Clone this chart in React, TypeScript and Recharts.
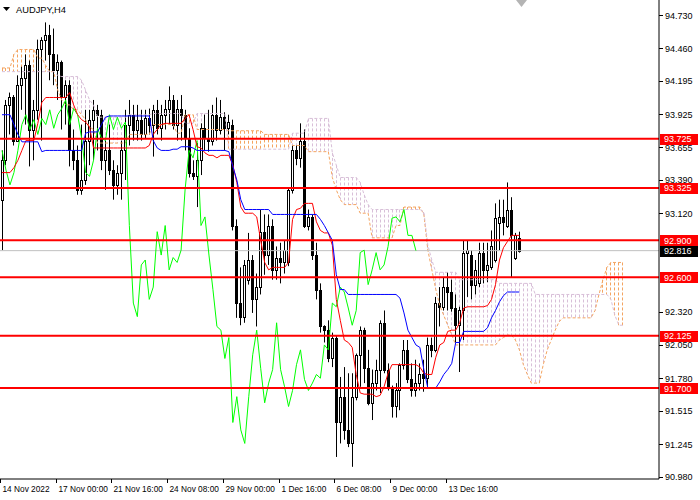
import React from 'react';
import { ComposedChart, Bar, Line, XAxis, YAxis, ReferenceLine } from 'recharts';

// AUDJPY H4 candles: [open, high, low, close]
const bars: [number, number, number, number][] = [
  [93.23, 93.63, 92.82, 93.55], [93.55, 94.04, 93.51, 94.0], [94.0, 94.1, 93.76, 94.06], [94.06, 94.08, 93.67, 93.71], [93.71, 94.24, 93.7, 94.16],
  [94.16, 94.31, 93.96, 94.22], [94.22, 94.41, 93.84, 94.32], [94.32, 94.36, 93.5, 93.8], [93.8, 94.04, 93.55, 93.96], [93.96, 94.53, 93.88, 94.45],
  [94.45, 94.55, 93.71, 94.53], [94.53, 94.67, 94.36, 94.57], [94.57, 94.65, 94.2, 94.41], [94.41, 94.62, 94.16, 94.28], [94.28, 94.41, 94.04, 94.35],
  [94.35, 94.36, 93.8, 94.06], [94.06, 94.2, 93.84, 94.16], [94.16, 94.2, 93.5, 93.63], [93.63, 93.8, 93.47, 93.55], [93.55, 93.67, 93.27, 93.31],
  [93.31, 93.84, 93.27, 93.39], [93.39, 93.96, 93.35, 93.71], [93.71, 93.96, 93.51, 93.88], [93.88, 94.04, 93.55, 93.96], [93.96, 94.0, 93.63, 93.92],
  [93.92, 93.96, 93.47, 93.55], [93.55, 93.71, 93.31, 93.63], [93.63, 93.84, 93.43, 93.47], [93.47, 93.55, 93.23, 93.35], [93.35, 93.51, 93.27, 93.45],
  [93.45, 93.71, 93.23, 93.63], [93.63, 93.96, 93.39, 93.84], [93.84, 94.04, 93.67, 93.92], [93.92, 94.0, 93.71, 93.8], [93.8, 94.0, 93.71, 93.88],
  [93.88, 93.96, 93.71, 93.76], [93.76, 93.96, 93.73, 93.89], [93.89, 93.97, 93.76, 93.84], [93.84, 94.0, 93.58, 93.96], [93.96, 94.04, 93.76, 93.81],
  [93.81, 94.0, 93.71, 93.92], [93.92, 94.04, 93.8, 93.97], [93.97, 94.15, 93.84, 94.04], [94.04, 94.08, 93.8, 93.84], [93.84, 94.04, 93.71, 93.97],
  [93.97, 94.08, 93.71, 93.92], [93.92, 93.96, 93.63, 93.73], [93.73, 93.81, 93.41, 93.45], [93.45, 93.55, 93.39, 93.42], [93.42, 93.69, 93.17, 93.55],
  [93.55, 93.85, 93.43, 93.81], [93.81, 93.92, 93.63, 93.73], [93.73, 93.96, 93.62, 93.71], [93.71, 94.0, 93.67, 93.92], [93.92, 94.06, 93.71, 93.8],
  [93.8, 94.04, 93.76, 93.9], [93.9, 93.94, 93.63, 93.81], [93.81, 93.92, 93.76, 93.86], [93.84, 93.88, 92.98, 93.02], [93.02, 93.07, 92.27, 92.39],
  [92.39, 92.68, 92.21, 92.28], [92.28, 92.74, 92.23, 92.7], [92.58, 92.96, 92.54, 92.74], [92.74, 92.78, 92.31, 92.42], [92.42, 92.63, 92.2, 92.52],
  [92.52, 93.15, 92.46, 92.97], [92.97, 93.11, 92.62, 92.78], [92.78, 93.11, 92.7, 93.02], [93.02, 93.07, 92.58, 92.66], [92.66, 92.85, 92.58, 92.76],
  [92.76, 92.88, 92.55, 92.72], [92.72, 92.9, 92.63, 92.82], [92.72, 93.33, 92.69, 93.31], [93.31, 93.67, 93.28, 93.63], [93.63, 93.67, 93.51, 93.57],
  [93.57, 93.85, 93.49, 93.71], [93.71, 93.8, 93.0, 93.02], [93.02, 93.15, 92.98, 93.09], [93.09, 93.11, 92.74, 92.78], [92.78, 92.88, 92.42, 92.5],
  [92.5, 92.55, 92.15, 92.2], [92.2, 92.21, 92.07, 92.17], [92.17, 92.25, 91.91, 91.94], [91.94, 92.15, 91.87, 92.11], [92.11, 92.13, 91.14, 91.42],
  [91.42, 91.79, 91.25, 91.63], [91.63, 91.87, 91.28, 91.36], [91.36, 91.82, 91.22, 91.25], [91.25, 91.82, 91.06, 91.63], [91.63, 91.98, 91.6, 91.97],
  [91.97, 92.2, 91.71, 92.17], [92.17, 92.19, 91.74, 91.86], [91.86, 92.01, 91.56, 91.58], [91.58, 91.85, 91.44, 91.74], [91.74, 91.93, 91.68, 91.85],
  [91.85, 92.25, 91.66, 92.23], [92.23, 92.33, 91.82, 91.85], [91.85, 91.9, 91.68, 91.71], [91.71, 91.72, 91.46, 91.55], [91.55, 91.74, 91.46, 91.68],
  [91.68, 91.9, 91.52, 91.89], [91.89, 92.09, 91.85, 92.01], [92.01, 92.09, 91.74, 91.77], [91.77, 91.9, 91.63, 91.68], [91.68, 91.93, 91.63, 91.74],
  [91.74, 91.9, 91.68, 91.81], [91.81, 91.93, 91.67, 91.78], [91.78, 92.11, 91.7, 92.05], [92.05, 92.11, 91.95, 92.01], [92.01, 92.44, 91.99, 92.39],
  [92.39, 92.52, 92.2, 92.36], [92.36, 92.6, 92.33, 92.52], [92.52, 92.64, 92.33, 92.48], [92.48, 92.58, 92.32, 92.35], [92.35, 92.46, 92.07, 92.21],
  [92.21, 92.36, 91.83, 92.33], [92.33, 92.9, 92.09, 92.8], [92.8, 92.9, 92.44, 92.82], [92.78, 92.82, 92.42, 92.54], [92.54, 92.74, 92.46, 92.66],
  [92.55, 92.88, 92.52, 92.8], [92.8, 92.88, 92.55, 92.66], [92.66, 92.88, 92.56, 92.7], [92.68, 92.98, 92.66, 92.85], [92.74, 93.2, 92.72, 93.08],
  [93.04, 93.23, 92.82, 93.09], [93.09, 93.23, 92.94, 93.05], [93.02, 93.37, 93.0, 93.15], [93.15, 93.25, 92.6, 92.94], [92.76, 92.96, 92.74, 92.94],
  [92.92, 92.97, 92.8, 92.816],
];

// Ichimoku lines
const tenkan = [
  93.45, 93.45, 93.45, 93.49, 93.55, 93.63, 93.71, 93.71, 93.71, 93.85,
  94.02, 94.06, 94.06, 94.06, 94.06, 94.06, 94.06, 94.1, 94.0, 93.92,
  93.88, 93.86, 93.82, 93.65, 93.65, 93.65, 93.65, 93.65, 93.65, 93.65,
  93.65, 93.65, 93.65, 93.65, 93.65, 93.65, 93.65, 93.67, 93.76, 93.8,
  93.84, 93.85, 93.85, 93.85, 93.85, 93.85, 93.89, 93.92, 93.8, 93.66,
  93.65, 93.61, 93.59, 93.59, 93.57, 93.59, 93.59, 93.59, 93.51, 93.37,
  93.17, 93.12, 93.12, 93.12, 93.09, 92.9, 92.72, 92.66, 92.68, 92.68,
  92.68, 92.68, 92.72, 93.07, 93.15, 93.16, 93.2, 93.2, 93.2, 93.05,
  92.98, 92.96, 92.96, 92.86, 92.42, 92.25, 92.09, 92.07, 92.03, 91.81,
  91.66, 91.65, 91.65, 91.65, 91.63, 91.64, 91.71, 91.82, 91.89, 91.89,
  91.89, 91.89, 91.89, 91.89, 91.89, 91.87, 91.82, 91.81, 91.81, 91.95,
  92.05, 92.07, 92.16, 92.17, 92.17, 92.23, 92.35, 92.36, 92.36, 92.36,
  92.36, 92.36, 92.37, 92.42, 92.54, 92.74, 92.84, 92.89, 92.94, 92.94,
  92.94,
];

const kijun = [
  93.92, 93.92, 93.92, 93.84, 93.76, 93.7, 93.7, 93.7, 93.7, 93.7,
  93.62, 93.63, 93.63, 93.63, 93.63, 93.63, 93.63, 93.63, 93.63, 93.63,
  93.63, 93.77, 93.78, 93.78, 93.78, 93.84, 93.9, 93.91, 93.91, 93.91,
  93.91, 93.91, 93.91, 93.91, 93.91, 93.91, 93.91, 93.91, 93.71, 93.65,
  93.63, 93.63, 93.63, 93.64, 93.64, 93.66, 93.66, 93.66, 93.65, 93.63,
  93.63, 93.63, 93.63, 93.63, 93.63, 93.63, 93.63, 93.62, 93.5, 93.39,
  93.23, 93.15, 93.15, 93.15, 93.15, 93.15, 93.15, 93.15, 93.11, 93.11,
  93.11, 93.11, 93.11, 93.11, 93.11, 93.11, 93.11, 93.11, 93.11, 93.11,
  93.07, 93.02, 92.96, 92.9, 92.62, 92.5, 92.5, 92.46, 92.46, 92.46,
  92.46, 92.46, 92.46, 92.46, 92.46, 92.46, 92.46, 92.46, 92.46, 92.46,
  92.43, 92.31, 92.17, 92.11, 92.05, 92.03, 91.85, 91.7, 91.7, 91.7,
  91.75, 91.81, 91.85, 91.9, 92.07, 92.07, 92.16, 92.16, 92.16, 92.16,
  92.16, 92.16, 92.19, 92.27, 92.33, 92.4, 92.45, 92.48, 92.48, 92.48,
  92.48,
];

// Senkou spans, already shifted 26 bars forward
const spanA = [
  94.3, 94.3, 94.3, 94.41, 94.45, 94.45, 94.45, 94.45, 94.45, 94.38,
  94.38, 94.32, 94.27, 94.27, 94.12, 94.04, 94.0, 94.0, 93.96, 93.96,
  93.92, 93.88, 93.82, 93.8, 93.69, 93.69, 93.69, 93.69, 93.69, 93.69,
  93.69, 93.69, 93.76, 93.76, 93.76, 93.76, 93.76, 93.76, 93.84, 93.84,
  93.84, 93.84, 93.84, 93.84, 93.77, 93.77, 93.92, 93.92, 93.92, 93.8,
  93.8, 93.8, 93.8, 93.8, 93.8, 93.8, 93.8, 93.79, 93.79, 93.79,
  93.79, 93.79, 93.79, 93.79, 93.79, 93.79, 93.76, 93.76, 93.76, 93.76,
  93.76, 93.76, 93.76, 93.67, 93.67, 93.67, 93.67, 93.62, 93.62, 93.62,
  93.62, 93.62, 93.62, 93.41, 93.31, 93.23, 93.19, 93.19, 93.19, 93.19,
  93.12, 93.12, 93.12, 92.92, 92.92, 92.92, 92.92, 92.92, 92.92, 93.02,
  93.02, 93.17, 93.17, 93.17, 93.17, 93.17, 93.11, 92.82, 92.66, 92.5,
  92.37, 92.29, 92.21, 92.13, 92.05, 92.05, 92.05, 92.05, 92.05, 92.05,
  92.05, 92.05, 92.05, 92.05, 92.05, 92.09, 92.11, 92.13, 92.13, 92.09,
  92.01, 91.89, 91.81, 91.74, 91.74, 91.74, 91.89, 92.01, 92.09, 92.17,
  92.24, 92.27, 92.27, 92.27, 92.27, 92.27, 92.27, 92.27, 92.27, 92.33,
  92.46, 92.58, 92.68, 92.72, 92.72, 92.72, 92.72,
];

const spanB = [
  94.27, 94.27, 94.27, 94.27, 94.27, 94.27, 94.27, 94.27, 94.27, 94.27,
  94.27, 94.27, 94.27, 94.27, 94.24, 94.23, 94.23, 94.23, 94.23, 94.23,
  94.2, 94.12, 94.04, 94.0, 93.9, 93.9, 93.9, 93.9, 93.9, 93.9,
  93.9, 93.9, 93.92, 93.92, 93.92, 93.92, 93.92, 93.92, 93.93, 93.93,
  93.93, 93.93, 93.93, 93.93, 93.93, 93.93, 93.85, 93.85, 93.85, 93.93,
  93.93, 93.93, 93.93, 93.93, 93.93, 93.93, 93.93, 93.64, 93.64, 93.64,
  93.64, 93.64, 93.64, 93.64, 93.64, 93.64, 93.64, 93.64, 93.64, 93.64,
  93.64, 93.64, 93.64, 93.77, 93.77, 93.77, 93.77, 93.89, 93.89, 93.89,
  93.89, 93.89, 93.89, 93.61, 93.51, 93.41, 93.41, 93.41, 93.41, 93.41,
  93.37, 93.27, 93.19, 93.15, 93.15, 93.15, 93.15, 93.15, 93.15, 93.15,
  93.15, 93.15, 93.15, 93.15, 93.15, 93.15, 93.13, 92.86, 92.74, 92.64,
  92.64, 92.64, 92.64, 92.64, 92.64, 92.58, 92.58, 92.58, 92.58, 92.58,
  92.58, 92.58, 92.58, 92.58, 92.58, 92.55, 92.55, 92.55, 92.55, 92.55,
  92.55, 92.55, 92.55, 92.55, 92.46, 92.46, 92.46, 92.46, 92.46, 92.46,
  92.46, 92.46, 92.46, 92.46, 92.46, 92.46, 92.46, 92.46, 92.46, 92.46,
  92.46, 92.46, 92.46, 92.42, 92.29, 92.21, 92.21,
];

const chikouShift = 26;
const levels = [93.725, 93.325, 92.9, 92.6, 92.125, 91.7];
const lastPrice = 92.816;
const priceTicks = [94.73, 94.46, 94.195, 93.925, 93.655, 93.39, 93.12, 92.32, 92.05, 91.78, 91.515, 91.245, 90.98];
const timeTicks = [-0.5, 13.5, 27.5, 41.5, 55.5, 69.5, 83.5, 97.5, 111.5];
const timeLabels = ['14 Nov 2022', '17 Nov 00:00', '21 Nov 16:00', '24 Nov 08:00', '29 Nov 00:00', '1 Dec 16:00', '6 Dec 08:00', '9 Dec 00:00', '13 Dec 16:00'];

const FONT = 'Liberation Sans, Arial, sans-serif';

const data = spanA.map((a, j) => {
  const b = spanB[j];
  const bar = bars[j];
  const later = bars[j + chikouShift];
  return {
    j,
    spanA: a,
    spanB: b,
    cloud: [Math.min(a, b), Math.max(a, b)],
    candle: bar ? [bar[2], bar[1]] : undefined,
    o: bar ? bar[0] : undefined,
    h: bar ? bar[1] : undefined,
    l: bar ? bar[2] : undefined,
    c: bar ? bar[3] : undefined,
    tenkan: tenkan[j],
    kijun: kijun[j],
    chikou: later ? later[3] : undefined,
  };
});

const Candle = (props: any) => {
  const { x, y, width, height, payload } = props;
  if (!payload || payload.o == null || !isFinite(y) || !isFinite(height)) return <g />;
  const { o, h, l, c } = payload;
  const cx = Math.round(x + width / 2) + 0.5;
  const py = (v: number) => y + ((h - v) / (h - l)) * height;
  const top = Math.round(py(Math.max(o, c))) + 0.5;
  const bot = Math.round(py(Math.min(o, c))) + 0.5;
  const up = c >= o;
  return (
    <g>
      <line x1={cx} x2={cx} y1={y} y2={y + height} stroke="#000" strokeWidth={1} />
      <rect x={cx - 1} y={top} width={2} height={Math.max(bot - top, 1)} fill={up ? '#fff' : '#000'} stroke="#000" strokeWidth={1} />
    </g>
  );
};

const CloudStroke = (props: any) => {
  const { x, y, width, height, payload } = props;
  if (!payload || !isFinite(y) || !(height > 0)) return <g />;
  const cx = Math.round(x + width / 2) + 0.5;
  const color = payload.spanA >= payload.spanB ? '#F4A460' : '#D8BFD8';
  return <line x1={cx} x2={cx} y1={y} y2={y + height} stroke={color} strokeWidth={1} strokeDasharray="3 2" />;
};

const TimeTick = (props: any) => {
  const { x, y, payload } = props;
  const k = timeTicks.indexOf(payload.value);
  const tx = Math.round(x) + 0.5;
  return (
    <g>
      <line x1={tx} x2={tx} y1={y} y2={y + 4} stroke="#000" />
      <text x={tx + 2} y={y + 13} fill="#000" fontFamily={FONT} fontSize={8.3}>{timeLabels[k]}</text>
    </g>
  );
};

const PriceTick = (props: any) => {
  const { x, y, payload } = props;
  const v = payload.value as number;
  const label = v.toFixed(3);
  if (levels.includes(v) || v === lastPrice) {
    const bg = v === lastPrice ? '#000' : '#ff0000';
    return (
      <g>
        <rect x={x + 1} y={Math.round(y) - 5} width={38} height={11} fill={bg} />
        <text x={x + 5} y={y + 3.5} fill="#fff" fontFamily={FONT} fontSize={9}>{label}</text>
      </g>
    );
  }
  return (
    <g>
      <line x1={x} x2={x + 4} y1={Math.round(y) + 0.5} y2={Math.round(y) + 0.5} stroke="#000" />
      <text x={x + 6} y={y + 3.5} fill="#000" fontFamily={FONT} fontSize={9}>{label}</text>
    </g>
  );
};

export default function App() {
  return (
    <div style={{ position: 'absolute', left: 0, top: 0, width: 700, height: 500, background: '#fff', fontFamily: FONT }}>
      <ComposedChart width={700} height={500} data={data} margin={{ top: 0, right: 0, bottom: 0, left: 0 }}>
        <XAxis
          dataKey="j"
          type="number"
          domain={[-0.503, 165.08]}
          allowDataOverflow
          ticks={timeTicks}
          interval={0}
          tick={<TimeTick />}
          tickLine={false}
          tickSize={0}
          tickMargin={0}
          axisLine={{ stroke: '#000' }}
          height={21}
        />
        <XAxis xAxisId="cloud" dataKey="j" type="number" domain={[-0.503, 165.08]} allowDataOverflow hide />
        <YAxis
          orientation="right"
          width={41}
          domain={[90.961, 94.852]}
          allowDataOverflow
          ticks={[...priceTicks, lastPrice, ...levels]}
          interval={0}
          tick={<PriceTick />}
          tickLine={false}
          tickSize={0}
          tickMargin={0}
          axisLine={{ stroke: '#000' }}
        />
        <Bar xAxisId="cloud" dataKey="cloud" barSize={3} shape={(p: any) => <CloudStroke {...p} />} activeBar={false} isAnimationActive={false} />
        <Line dataKey="spanA" stroke="#F4A460" strokeWidth={1} strokeDasharray="3 2" dot={false} activeDot={false} isAnimationActive={false} />
        <Line dataKey="spanB" stroke="#D8BFD8" strokeWidth={1} strokeDasharray="3 2" dot={false} activeDot={false} isAnimationActive={false} />
        <ReferenceLine y={lastPrice} stroke="#c0c0c0" strokeWidth={1} />
        <Bar dataKey="candle" barSize={3} shape={(p: any) => <Candle {...p} />} activeBar={false} isAnimationActive={false} />
        <Line dataKey="chikou" stroke="#00ff00" strokeWidth={1} dot={false} activeDot={false} isAnimationActive={false} />
        <Line dataKey="tenkan" stroke="#ff0000" strokeWidth={1} dot={false} activeDot={false} isAnimationActive={false} />
        <Line dataKey="kijun" stroke="#0000ff" strokeWidth={1} dot={false} activeDot={false} isAnimationActive={false} />
        {levels.map((lv) => (
          <ReferenceLine key={lv} y={lv} stroke="#ff0000" strokeWidth={2} />
        ))}
      </ComposedChart>
      <div style={{ position: 'absolute', left: 0, top: 0, width: 700, height: 20, pointerEvents: 'none' }}>
        <svg width={700} height={20} style={{ position: 'absolute', left: 0, top: 0 }}>
          <polygon points="3,7 10,7 6.5,11" fill="#000" />
          <polygon points="516,0 527,0 521.5,7" fill="#b4b4b4" />
          <text x={16} y={13} fill="#000" fontFamily={FONT} fontSize={9.3}>AUDJPY,H4</text>
        </svg>
      </div>
    </div>
  );
}
